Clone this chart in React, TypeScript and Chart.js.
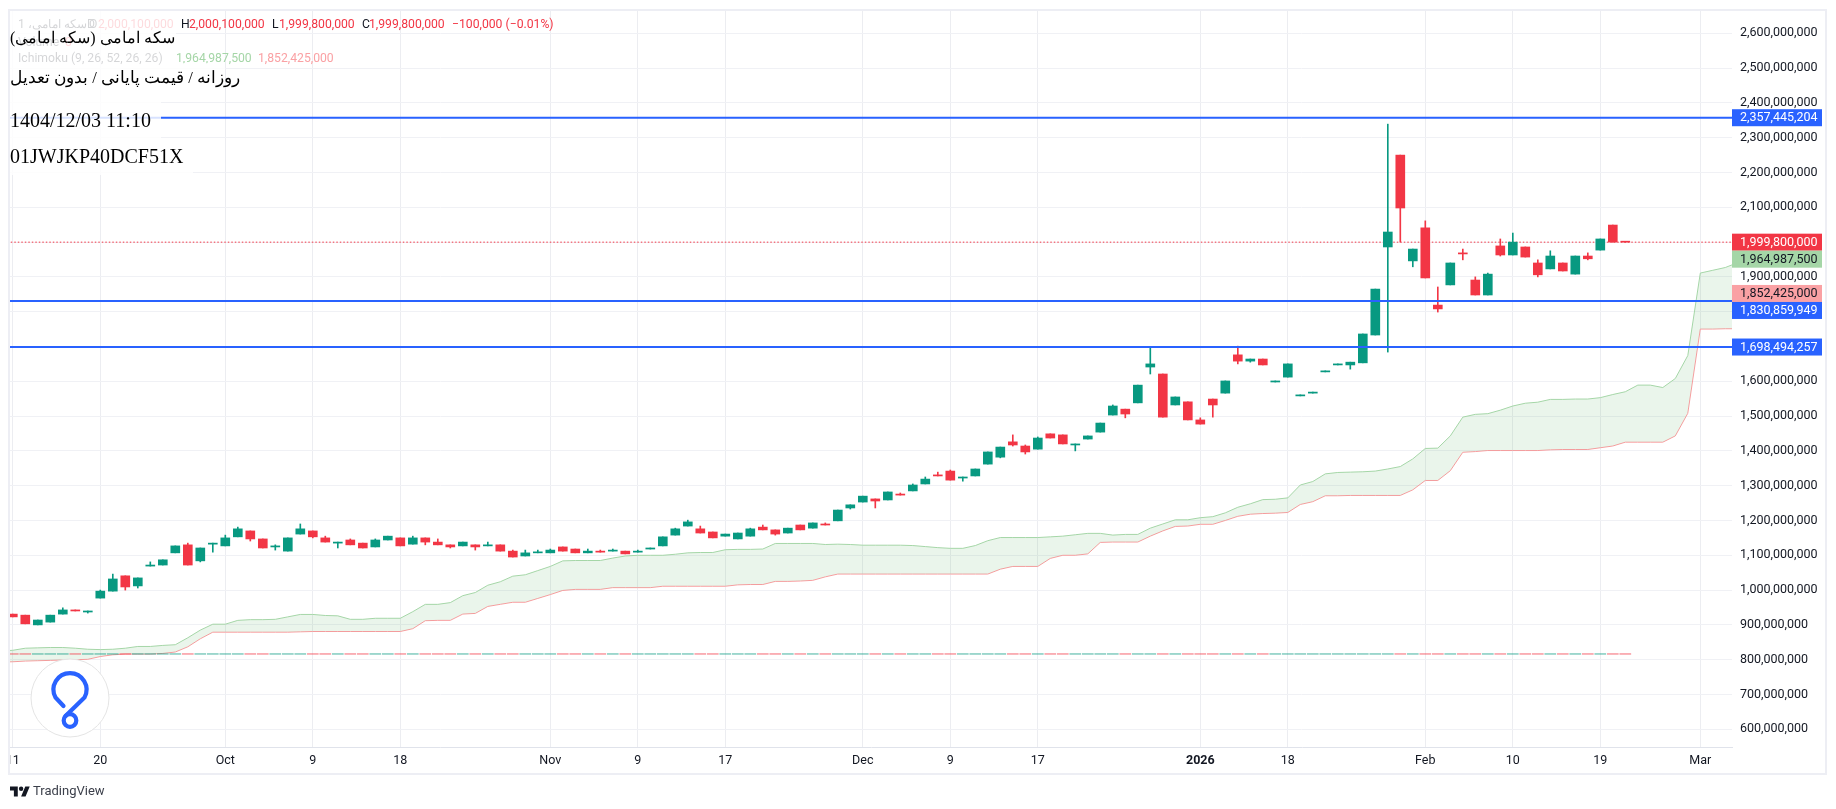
import React, { useEffect, useRef } from 'react';
import { Chart, registerables } from 'chart.js';

Chart.register(...registerables);

// prices are in millions
const opens = [931, 928, 900, 908, 931, 943, 937, 977, 997, 1041, 1012, 1069, 1072, 1107, 1130, 1084, 1132, 1127, 1153, 1170, 1147, 1124, 1112, 1161, 1170, 1150, 1135, 1144, 1135, 1124, 1144, 1150, 1132, 1150, 1138, 1130, 1127, 1130, 1127, 1130, 1112, 1098, 1107, 1107, 1124, 1118, 1107, 1112, 1112, 1112, 1109, 1118, 1127, 1158, 1184, 1176, 1167, 1155, 1147, 1155, 1181, 1173, 1164, 1187, 1178, 1190, 1199, 1236, 1253, 1262, 1259, 1276, 1285, 1305, 1331, 1342, 1322, 1328, 1362, 1382, 1426, 1414, 1405, 1449, 1446, 1417, 1434, 1454, 1503, 1520, 1538, 1641, 1621, 1532, 1541, 1489, 1549, 1566, 1676, 1658, 1664, 1598, 1612, 1558, 1566, 1627, 1647, 1647, 1653, 1733, 1986, 2250, 1946, 2041, 1819, 1877, 1969, 1891, 1848, 1989, 1963, 1986, 1940, 1923, 1940, 1908, 1960, 1977, 2049, 2000.1];
const closes = [923, 903, 914, 928, 943, 940, 940, 997, 1032, 1009, 1035, 1072, 1087, 1127, 1072, 1121, 1135, 1150, 1176, 1147, 1121, 1127, 1150, 1176, 1153, 1138, 1138, 1130, 1121, 1144, 1155, 1127, 1150, 1138, 1130, 1124, 1138, 1124, 1130, 1112, 1095, 1107, 1109, 1115, 1112, 1107, 1112, 1109, 1115, 1104, 1112, 1121, 1153, 1176, 1196, 1164, 1150, 1161, 1164, 1176, 1173, 1161, 1178, 1173, 1193, 1187, 1230, 1245, 1270, 1256, 1282, 1273, 1302, 1319, 1328, 1316, 1325, 1348, 1397, 1411, 1417, 1397, 1437, 1437, 1420, 1420, 1443, 1480, 1529, 1506, 1589, 1650, 1497, 1555, 1489, 1477, 1532, 1601, 1658, 1664, 1647, 1601, 1650, 1561, 1569, 1630, 1650, 1655, 1736, 1865, 2029, 2098, 1980, 1897, 1808, 1940, 1966, 1848, 1908, 1963, 2000, 1957, 1906, 1960, 1917, 1960, 1952, 2009, 2000, 1999.8];
const highs = [931, 928, 914, 928, 949, 943, 940, 1000, 1046, 1041, 1035, 1081, 1087, 1127, 1135, 1121, 1135, 1158, 1181, 1170, 1147, 1130, 1150, 1190, 1170, 1155, 1138, 1147, 1135, 1147, 1155, 1150, 1155, 1150, 1147, 1130, 1138, 1130, 1138, 1130, 1115, 1115, 1115, 1118, 1124, 1118, 1118, 1115, 1118, 1112, 1115, 1121, 1153, 1178, 1201, 1184, 1167, 1161, 1164, 1178, 1187, 1173, 1178, 1187, 1193, 1193, 1230, 1245, 1270, 1262, 1282, 1279, 1305, 1325, 1339, 1345, 1325, 1348, 1397, 1411, 1446, 1417, 1440, 1449, 1446, 1420, 1443, 1480, 1532, 1520, 1589, 1699, 1621, 1555, 1541, 1495, 1549, 1601, 1701, 1664, 1664, 1601, 1650, 1561, 1569, 1630, 1650, 1655, 1736, 1865, 2339, 2250, 1980, 2061, 1871, 1940, 1980, 1900, 1911, 2009, 2026, 1986, 1949, 1975, 1940, 1960, 1969, 2009, 2049, 2000.1];
const lows = [923, 903, 900, 908, 931, 940, 934, 977, 997, 1000, 1006, 1069, 1072, 1107, 1072, 1081, 1109, 1127, 1153, 1141, 1121, 1115, 1112, 1161, 1150, 1138, 1121, 1130, 1121, 1124, 1144, 1127, 1132, 1130, 1130, 1121, 1127, 1115, 1127, 1112, 1095, 1098, 1107, 1107, 1112, 1107, 1107, 1109, 1112, 1104, 1109, 1118, 1127, 1158, 1184, 1164, 1150, 1155, 1147, 1155, 1173, 1158, 1164, 1173, 1178, 1187, 1199, 1233, 1253, 1236, 1259, 1273, 1285, 1305, 1328, 1316, 1313, 1328, 1362, 1380, 1414, 1391, 1405, 1437, 1420, 1400, 1434, 1454, 1503, 1495, 1538, 1621, 1497, 1532, 1489, 1477, 1497, 1566, 1650, 1655, 1647, 1598, 1612, 1558, 1566, 1627, 1647, 1635, 1653, 1733, 1684, 2000, 1929, 1897, 1799, 1877, 1949, 1848, 1848, 1960, 1963, 1957, 1900, 1923, 1917, 1908, 1949, 1977, 2000, 1999.8];

// ichimoku cloud, first value sits one bar before the first candle
const lead1 = [825, 827, 833, 834, 835, 835, 833, 830, 829, 830, 833, 838, 838, 841, 843, 863, 885, 902, 902, 913, 915, 915, 916, 923, 930, 930, 927, 926, 916, 916, 919, 919, 919, 938, 959, 959, 964, 984, 993, 1014, 1024, 1040, 1044, 1056, 1068, 1084, 1085, 1085, 1085, 1092, 1098, 1100, 1100, 1100, 1103, 1107, 1108, 1108, 1116, 1117, 1117, 1118, 1134, 1134, 1134, 1134, 1131, 1132, 1131, 1129, 1129, 1129, 1129, 1128, 1125, 1122, 1120, 1120, 1128, 1142, 1151, 1151, 1151, 1151, 1153, 1155, 1159, 1163, 1163, 1158, 1160, 1160, 1178, 1190, 1202, 1202, 1208, 1211, 1222, 1238, 1248, 1260, 1261, 1265, 1302, 1312, 1334, 1338, 1339, 1340, 1342, 1348, 1355, 1377, 1407, 1408, 1443, 1497, 1505, 1507, 1517, 1529, 1537, 1540, 1548, 1548, 1549, 1549, 1553, 1562, 1570, 1589, 1589, 1582, 1608, 1674, 1911, 1919, 1927, 1941];
const lead2 = [793, 794, 796, 797, 798, 799, 800, 801, 809, 814, 816, 816, 816, 818, 822, 837, 860, 879, 879, 879, 879, 879, 879, 879, 880, 881, 881, 881, 881, 881, 881, 881, 881, 889, 912, 913, 913, 931, 933, 953, 959, 965, 965, 976, 987, 999, 1002, 1002, 1002, 1007, 1007, 1007, 1007, 1011, 1011, 1011, 1011, 1011, 1011, 1015, 1016, 1016, 1025, 1025, 1026, 1028, 1038, 1046, 1046, 1046, 1046, 1046, 1046, 1046, 1046, 1046, 1046, 1046, 1046, 1046, 1060, 1068, 1068, 1068, 1091, 1100, 1100, 1104, 1137, 1138, 1138, 1138, 1155, 1170, 1183, 1184, 1189, 1189, 1200, 1212, 1218, 1220, 1221, 1223, 1246, 1254, 1271, 1271, 1272, 1272, 1272, 1272, 1272, 1288, 1315, 1315, 1343, 1396, 1398, 1401, 1401, 1401, 1401, 1401, 1403, 1404, 1404, 1404, 1409, 1414, 1425, 1425, 1425, 1425, 1443, 1508, 1750, 1750, 1751, 1751];

const levels = [2357.445204, 1830.859949, 1698.494257];
const lastClose = 1999.8;
const volumeFloor = 815;

const timeTickBars = [0, 7, 17, 24, 31, 43, 50, 57, 68, 75, 82, 95, 102, 113, 120, 127, 135];
const timeTickLabels = ['11', '20', 'Oct', '9', '18', 'Nov', '9', '17', 'Dec', '9', '17', '2026', '18', 'Feb', '10', '19', 'Mar'];
const priceTicks = [600, 700, 800, 900, 1000, 1100, 1200, 1300, 1400, 1500, 1600, 1700, 1800, 1900, 2000, 2100, 2200, 2300, 2400, 2500, 2600];

const tagValues = [2357.445204, 1999.8, 1964.9875, 1852.425, 1830.859949, 1698.494257];
const tagColors = ['#2962FF', '#F23645', '#A5D6A7', '#FAA1A4', '#2962FF', '#2962FF'];
const tagTextColors = ['#fff', '#fff', '#131722', '#131722', '#fff', '#fff'];

const UP = '#089981';
const DOWN = '#F23645';
const FONT = 'Roboto, sans-serif';
const AXIS_FONT_SIZE = 12.5;
const LEGEND_FONT_SIZE = 12.2;

const money = (v: number) => Math.round(v * 1e6).toLocaleString('en-US');
const isUp = (i: number) => closes[i] >= opens[i];

// frame around the widget + price tags on the right axis
const framePlugin = {
    id: 'frame',
    afterDraw(chart: any) {
        const { ctx, chartArea, scales } = chart;
        ctx.save();
        ctx.fillStyle = '#fff';
        ctx.fillRect(0, chartArea.bottom + 1, chartArea.left, 40);
        ctx.strokeStyle = '#EDEEF4';
        ctx.lineWidth = 2;
        ctx.strokeRect(9, 10, 1817, 764);

        let prev = -100;
        ctx.font = `${AXIS_FONT_SIZE}px ${FONT}`;
        ctx.textAlign = 'left';
        ctx.textBaseline = 'middle';
        tagValues.forEach((v, i) => {
            let y = scales.y.getPixelForValue(v);
            if (y - prev < 17) y = prev + 17;
            prev = y;
            ctx.fillStyle = tagColors[i];
            ctx.fillRect(chartArea.right, y - 8.5, 90, 17);
            ctx.fillStyle = tagTextColors[i];
            ctx.fillText(money(v), chartArea.right + 8, y + 0.5);
        });
        ctx.restore();
    },
};

const legendSpan = (text: string, left: number, top: number, color: string) => (
    <span style={{ position: 'absolute', left, top, color, whiteSpace: 'nowrap' }}>{text}</span>
);

const box = (left: number, top: number, width: number, height: number) => (
    <div style={{ position: 'absolute', left, top, width, height, background: 'rgba(255,255,255,0.82)' }} />
);

const note = (text: string, left: number, top: number, size: number, rtl = false) => (
    <div
        style={{
            position: 'absolute',
            left,
            top,
            font: `${size}px "Liberation Serif", "Times New Roman", serif`,
            lineHeight: '24px',
            color: '#000',
            whiteSpace: 'nowrap',
            direction: rtl ? 'rtl' : 'ltr',
        }}
    >
        {text}
    </div>
);

const App: React.FC = () => {
    const canvasRef = useRef<HTMLCanvasElement>(null);

    useEffect(() => {
        if (!canvasRef.current) return;

        const barRow = { type: 'bar' as const, grouped: false };
        const flatLine = (y: number) => [{ x: -1, y }, { x: 138, y }];

        const chart = new Chart(canvasRef.current, {
            type: 'bar',
            data: {
                datasets: [
                    ...levels.map((y) => ({
                        type: 'line' as const,
                        data: flatLine(y),
                        borderColor: '#2962FF',
                        borderWidth: 2,
                        pointRadius: 0,
                        order: -1,
                    })),
                    {
                        ...barRow,
                        data: closes.map((c, i) => ({ x: i, y: [opens[i], c] })),
                        backgroundColor: closes.map((_, i) => (isUp(i) ? UP : DOWN)),
                        barThickness: 9,
                        minBarLength: 1,
                        order: 1,
                    },
                    {
                        ...barRow,
                        data: highs.map((h, i) => ({ x: i, y: [lows[i], h] })),
                        backgroundColor: highs.map((_, i) => (isUp(i) ? UP : DOWN)),
                        barThickness: 1,
                        order: 2,
                    },
                    {
                        type: 'line' as const,
                        data: flatLine(lastClose),
                        borderColor: DOWN,
                        borderWidth: 1,
                        borderDash: [1.5, 2],
                        pointRadius: 0,
                        order: 3,
                    },
                    {
                        ...barRow,
                        data: closes.map((_, i) => ({ x: i, y: [volumeFloor, volumeFloor + 3] })),
                        backgroundColor: closes.map((_, i) => (isUp(i) ? 'rgba(8,153,129,0.45)' : 'rgba(242,54,69,0.45)')),
                        barThickness: 11,
                        order: 4,
                    },
                    {
                        type: 'line' as const,
                        label: 'lead1',
                        data: lead1.map((y, i) => ({ x: i - 1, y })),
                        borderColor: '#A5D6A7',
                        borderWidth: 1,
                        pointRadius: 0,
                        fill: { target: '+1', above: 'rgba(67,160,71,0.11)', below: 'rgba(244,67,54,0.11)' },
                        order: 5,
                    },
                    {
                        type: 'line' as const,
                        label: 'lead2',
                        data: lead2.map((y, i) => ({ x: i - 1, y })),
                        borderColor: '#FAA1A4',
                        borderWidth: 1,
                        pointRadius: 0,
                        order: 6,
                    },
                ],
            } as any,
            options: {
                animation: false,
                responsive: false,
                devicePixelRatio: 1,
                layout: { padding: { left: 10, top: 11, right: 10, bottom: 35 } },
                plugins: { legend: { display: false }, tooltip: { enabled: false } },
                scales: {
                    x: {
                        type: 'linear',
                        min: -0.224,
                        max: 137.536,
                        offset: false,
                        grid: { color: '#ECEDF1', offset: false, drawTicks: false },
                        border: { color: '#E0E3EB' },
                        afterBuildTicks: (axis: any) => {
                            axis.ticks = timeTickBars.map((value) => ({ value }));
                        },
                        afterFit: (axis: any) => {
                            axis.height = 27;
                            axis.paddingLeft = 0;
                            axis.paddingRight = 0;
                        },
                        ticks: {
                            autoSkip: false,
                            maxRotation: 0,
                            padding: 6,
                            color: '#131722',
                            callback: (value: any) => timeTickLabels[timeTickBars.indexOf(value)],
                            font: (ctx: any) => ({
                                family: FONT,
                                size: AXIS_FONT_SIZE,
                                weight: ctx.tick && ctx.tick.label === '2026' ? 'bold' : 'normal',
                            }),
                        },
                    },
                    y: {
                        type: 'linear',
                        position: 'right',
                        min: 549.1,
                        max: 2664.1,
                        grid: { color: '#F0F1F5', drawTicks: false },
                        border: { display: false },
                        afterBuildTicks: (axis: any) => {
                            axis.ticks = priceTicks.map((value) => ({ value }));
                        },
                        afterFit: (axis: any) => {
                            axis.width = 94;
                            axis.paddingTop = 0;
                            axis.paddingBottom = 0;
                        },
                        ticks: {
                            padding: 8,
                            color: '#131722',
                            font: { family: FONT, size: AXIS_FONT_SIZE },
                            callback: (value: any) => money(value),
                        },
                    },
                },
            } as any,
            plugins: [framePlugin],
        });

        return () => chart.destroy();
    }, []);

    const legendStyle: any = { position: 'absolute', left: 0, top: 0, font: `${LEGEND_FONT_SIZE}px ${FONT}`, lineHeight: '14px' };

    return (
        <div style={{ position: 'fixed', left: 0, top: 0, width: 1836, height: 809, background: '#fff', overflow: 'hidden' }}>
            <canvas ref={canvasRef} width={1836} height={809} style={{ display: 'block' }} />

            <div style={legendStyle}>
                {legendSpan('سکه امامی، 1D', 18, 17, '#131722')}
                {legendSpan('O', 89, 17, '#131722')}
                {legendSpan('2,000,100,000', 98, 17, DOWN)}
                {legendSpan('H', 181, 17, '#131722')}
                {legendSpan('2,000,100,000', 189, 17, DOWN)}
                {legendSpan('L', 272, 17, '#131722')}
                {legendSpan('1,999,800,000', 279, 17, DOWN)}
                {legendSpan('C', 362, 17, '#131722')}
                {legendSpan('1,999,800,000', 369, 17, DOWN)}
                {legendSpan('−100,000 (−0.01%)', 452, 17, DOWN)}
                {legendSpan('Volume', 18, 35, '#131722')}
                {legendSpan('0', 65, 35, DOWN)}
                {legendSpan('Ichimoku (9, 26, 52, 26, 26)', 18, 51, '#131722')}
                {legendSpan('1,964,987,500', 176, 51, '#A5D6A7')}
                {legendSpan('1,852,425,000', 258, 51, '#FAA1A4')}
            </div>

            {box(10, 11, 166, 52)}
            {box(10, 63, 215, 37)}
            {box(10, 100, 151, 42)}
            {box(10, 142, 183, 33)}

            {note('سکه امامی (سکه امامی)', 10, 26, 16, true)}
            {note('روزانه / قیمت پایانی / بدون تعدیل', 10, 66, 16.6, true)}
            {note('1404/12/03 11:10', 10, 108, 20)}
            {note('01JWJKP40DCF51X', 10, 144, 20)}

            <svg width={84} height={84} viewBox="28 656 84 84" style={{ position: 'absolute', left: 28, top: 656 }}>
                <circle cx={70} cy={698} r={39} fill="#fff" stroke="#E4E4E4" strokeWidth={1} />
                <path d="M63.5 706 L55.5 697.5 A16.5 16.5 0 1 1 84.5 697.5 L65.5 716" fill="none" stroke="#2962FF" strokeWidth={4.2} strokeLinecap="round" />
                <circle cx={70} cy={720.5} r={6.3} fill="none" stroke="#2962FF" strokeWidth={4.2} />
            </svg>

            <svg width={20} height={11} viewBox="0 4 36 18" style={{ position: 'absolute', left: 10, top: 786 }}>
                <path d="M14 22H7V11H0V4h14v18zM28 22h-8l7.500-18h8L28 22z" fill="#131722" />
                <circle cx={20} cy={8} r={4} fill="#131722" />
            </svg>
            <span style={{ position: 'absolute', left: 33, top: 782, font: `13px ${FONT}`, lineHeight: '18px', color: '#3b3f4a' }}>TradingView</span>
        </div>
    );
};

export default App;
